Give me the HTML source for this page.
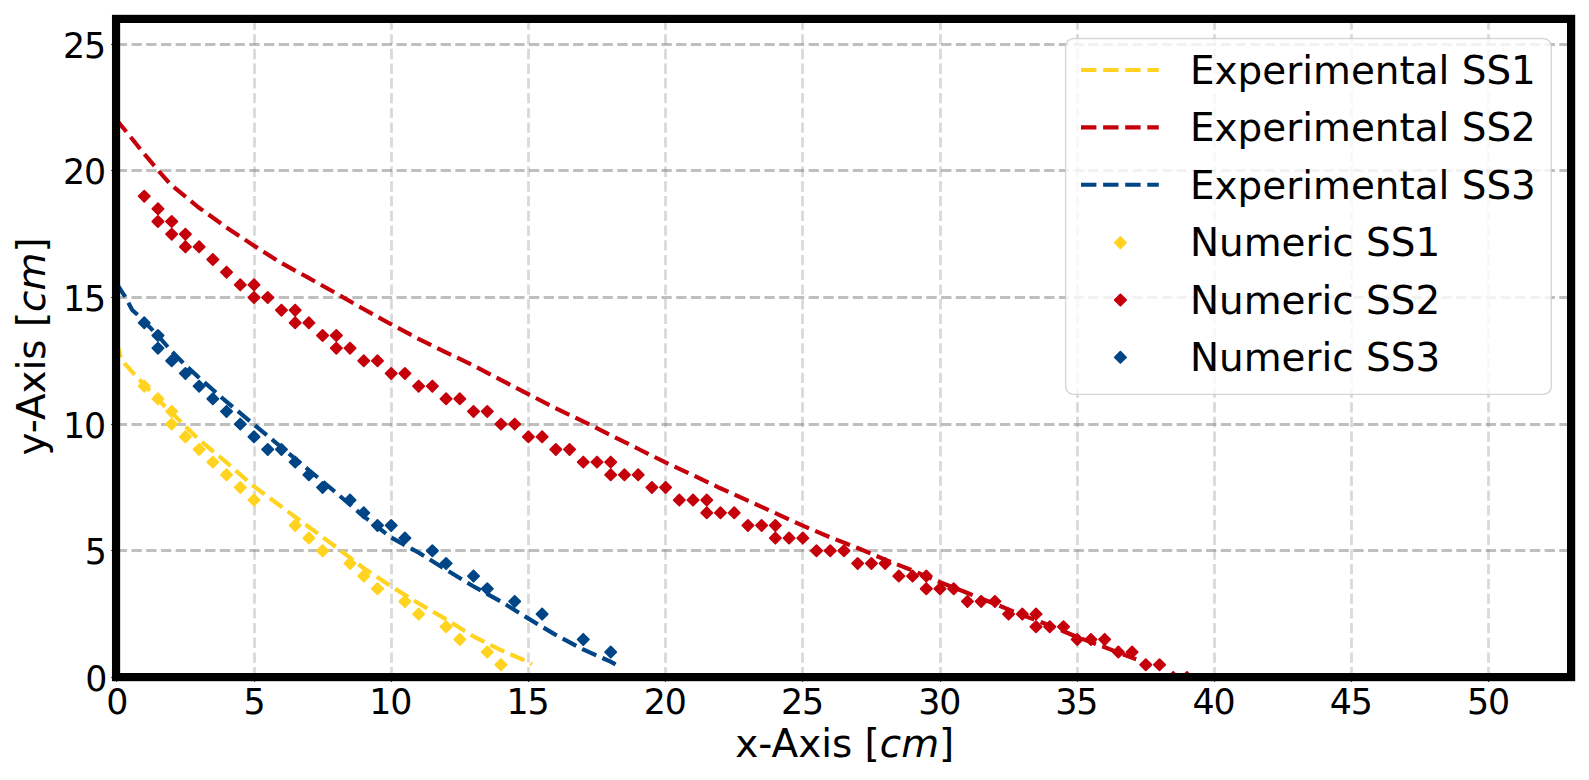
<!DOCTYPE html>
<html lang="en"><head><meta charset="utf-8"><title>Experimental vs Numeric</title>
<style>
html,body{margin:0;padding:0;background:#fff;}
svg{display:block;}
text{font-family:"DejaVu Sans","Liberation Sans",sans-serif;fill:#000;}
.tk{font-size:34.8px;}
.lg{font-size:38.9px;}
.lb{font-size:38.9px;}
.it{font-style:italic;}
</style></head><body>
<svg width="1589" height="780" viewBox="0 0 1589 780">
<rect width="1589" height="780" fill="#fff"/>
<defs><clipPath id="ax"><rect x="116.05" y="18.9" width="1455.05" height="658.2"/></clipPath></defs>
<g fill="none" stroke-width="2.8" stroke-dasharray="10.3 4.42">
<g stroke="#808080" stroke-opacity="0.3">
<path d="M116.5 677.4V18.9"/>
<path d="M254.5 677.4V18.9"/>
<path d="M391.5 677.4V18.9"/>
<path d="M528.5 677.4V18.9"/>
<path d="M665.5 677.4V18.9"/>
<path d="M802.5 677.4V18.9"/>
<path d="M940.5 677.4V18.9"/>
<path d="M1077.5 677.4V18.9"/>
<path d="M1214.5 677.4V18.9"/>
<path d="M1351.5 677.4V18.9"/>
<path d="M1488.5 677.4V18.9"/>
</g><g stroke="#808080" stroke-opacity="0.5">
<path d="M116.8 677.5H1571.1"/>
<path d="M116.8 550.5H1571.1"/>
<path d="M116.8 424.5H1571.1"/>
<path d="M116.8 297.5H1571.1"/>
<path d="M116.8 170.5H1571.1"/>
<path d="M116.8 44.5H1571.1"/>
</g></g>
<g stroke="#000" stroke-width="1.1">
<path d="M116.5 677.1v4.7"/>
<path d="M254.5 677.1v4.7"/>
<path d="M391.5 677.1v4.7"/>
<path d="M528.5 677.1v4.7"/>
<path d="M665.5 677.1v4.7"/>
<path d="M802.5 677.1v4.7"/>
<path d="M940.5 677.1v4.7"/>
<path d="M1077.5 677.1v4.7"/>
<path d="M1214.5 677.1v4.7"/>
<path d="M1351.5 677.1v4.7"/>
<path d="M1488.5 677.1v4.7"/>
<path d="M116.05 677.5h-4.7"/>
<path d="M116.05 550.5h-4.7"/>
<path d="M116.05 424.5h-4.7"/>
<path d="M116.05 297.5h-4.7"/>
<path d="M116.05 170.5h-4.7"/>
<path d="M116.05 44.5h-4.7"/>
</g>
<g clip-path="url(#ax)">
<path d="M116.79 342.69 L120.69 357.5 L124.39 363.19 L134.11 374.08 L149.51 390.28 L164.41 405.98 L170.94 412.05 L198.39 439.14 L225.83 461.92 L253.28 485.97 L280.73 506.22 L308.17 526.48 L335.62 546.73 L363.06 567.74 L390.51 585.97 L417.96 602.93 L445.4 618.88 L472.85 636.09 L500.29 649.76 L527.74 661.91 L531.86 664.44" fill="none" stroke="#FFD320" stroke-width="4.15" stroke-dasharray="15.4 6.7" stroke-dashoffset="0"/>
<path d="M116.05 119.41 L129.77 135.87 L143.5 153.08 L157.22 169.28 L170.94 184.72 L198.39 207.25 L225.83 227 L253.28 245.23 L280.73 262.69 L308.17 277.63 L335.62 293.07 L363.06 308.77 L390.51 323.96 L417.96 338.64 L445.4 352.06 L472.85 365.22 L500.29 379.65 L527.74 393.83 L555.19 408 L582.63 421.17 L610.08 434.84 L637.52 448.51 L664.97 462.18 L692.42 474.83 L719.86 488 L747.31 500.4 L774.75 512.81 L802.2 525.46 L829.65 537.11 L857.09 547.74 L884.54 559.39 L911.98 570.27 L939.43 581.92 L966.88 592.8 L994.32 603.69 L1021.77 614.83 L1049.21 625.2 L1076.66 636.85 L1104.11 646.98 L1131.55 657.61 L1136.22 659.2" fill="none" stroke="#C5000B" stroke-width="4.15" stroke-dasharray="15.4 6.7" stroke-dashoffset="-0.7"/>
<path d="M116.8 283.96 L125.33 297 L132.19 309.91 L138.28 315.48 L143.5 320.66 L157.22 334.84 L170.94 350.54 L184.67 364.46 L198.39 377.12 L225.83 401.17 L253.28 423.95 L280.73 446.73 L308.17 469.52 L335.62 492.3 L363.06 515.84 L390.51 537.11 L417.96 552.3 L445.4 569.26 L472.85 585.97 L500.29 601.15 L527.74 618.12 L555.19 634.57 L582.63 649.25 L610.08 661.4 L615.57 664.44" fill="none" stroke="#004586" stroke-width="4.15" stroke-dasharray="15.4 6.7" stroke-dashoffset="0"/>
<path fill="#FFD320" stroke="#FFD320" stroke-width="1.8" stroke-linejoin="round" d="M144.24 380.54l5.6 5.6l-5.6 5.6l-5.6 -5.6zM157.96 393.2l5.6 5.6l-5.6 5.6l-5.6 -5.6zM171.68 405.87l5.6 5.6l-5.6 5.6l-5.6 -5.6zM171.68 418.53l5.6 5.6l-5.6 5.6l-5.6 -5.6zM185.4 431.19l5.6 5.6l-5.6 5.6l-5.6 -5.6zM199.12 443.86l5.6 5.6l-5.6 5.6l-5.6 -5.6zM212.84 456.52l5.6 5.6l-5.6 5.6l-5.6 -5.6zM226.56 469.18l5.6 5.6l-5.6 5.6l-5.6 -5.6zM240.28 481.85l5.6 5.6l-5.6 5.6l-5.6 -5.6zM254 494.51l5.6 5.6l-5.6 5.6l-5.6 -5.6zM295.16 519.84l5.6 5.6l-5.6 5.6l-5.6 -5.6zM308.88 532.5l5.6 5.6l-5.6 5.6l-5.6 -5.6zM322.6 545.16l5.6 5.6l-5.6 5.6l-5.6 -5.6zM350.04 557.83l5.6 5.6l-5.6 5.6l-5.6 -5.6zM363.76 570.49l5.6 5.6l-5.6 5.6l-5.6 -5.6zM377.48 583.16l5.6 5.6l-5.6 5.6l-5.6 -5.6zM404.92 595.82l5.6 5.6l-5.6 5.6l-5.6 -5.6zM418.64 608.48l5.6 5.6l-5.6 5.6l-5.6 -5.6zM446.08 621.15l5.6 5.6l-5.6 5.6l-5.6 -5.6zM459.8 633.81l5.6 5.6l-5.6 5.6l-5.6 -5.6zM487.24 646.47l5.6 5.6l-5.6 5.6l-5.6 -5.6zM500.96 659.14l5.6 5.6l-5.6 5.6l-5.6 -5.6z"/>
<path fill="#C5000B" stroke="#C5000B" stroke-width="1.8" stroke-linejoin="round" d="M144.24 190.59l5.6 5.6l-5.6 5.6l-5.6 -5.6zM157.96 203.25l5.6 5.6l-5.6 5.6l-5.6 -5.6zM157.96 215.91l5.6 5.6l-5.6 5.6l-5.6 -5.6zM171.68 215.91l5.6 5.6l-5.6 5.6l-5.6 -5.6zM171.68 228.58l5.6 5.6l-5.6 5.6l-5.6 -5.6zM185.4 228.58l5.6 5.6l-5.6 5.6l-5.6 -5.6zM185.4 241.24l5.6 5.6l-5.6 5.6l-5.6 -5.6zM199.12 241.24l5.6 5.6l-5.6 5.6l-5.6 -5.6zM212.84 253.9l5.6 5.6l-5.6 5.6l-5.6 -5.6zM226.56 266.57l5.6 5.6l-5.6 5.6l-5.6 -5.6zM240.28 279.23l5.6 5.6l-5.6 5.6l-5.6 -5.6zM254 279.23l5.6 5.6l-5.6 5.6l-5.6 -5.6zM254 291.89l5.6 5.6l-5.6 5.6l-5.6 -5.6zM267.72 291.89l5.6 5.6l-5.6 5.6l-5.6 -5.6zM281.44 304.56l5.6 5.6l-5.6 5.6l-5.6 -5.6zM295.16 304.56l5.6 5.6l-5.6 5.6l-5.6 -5.6zM295.16 317.22l5.6 5.6l-5.6 5.6l-5.6 -5.6zM308.88 317.22l5.6 5.6l-5.6 5.6l-5.6 -5.6zM322.6 329.89l5.6 5.6l-5.6 5.6l-5.6 -5.6zM336.32 329.89l5.6 5.6l-5.6 5.6l-5.6 -5.6zM336.32 342.55l5.6 5.6l-5.6 5.6l-5.6 -5.6zM350.04 342.55l5.6 5.6l-5.6 5.6l-5.6 -5.6zM363.76 355.21l5.6 5.6l-5.6 5.6l-5.6 -5.6zM377.48 355.21l5.6 5.6l-5.6 5.6l-5.6 -5.6zM391.2 367.88l5.6 5.6l-5.6 5.6l-5.6 -5.6zM404.92 367.88l5.6 5.6l-5.6 5.6l-5.6 -5.6zM418.64 380.54l5.6 5.6l-5.6 5.6l-5.6 -5.6zM432.36 380.54l5.6 5.6l-5.6 5.6l-5.6 -5.6zM446.08 393.2l5.6 5.6l-5.6 5.6l-5.6 -5.6zM459.8 393.2l5.6 5.6l-5.6 5.6l-5.6 -5.6zM473.52 405.87l5.6 5.6l-5.6 5.6l-5.6 -5.6zM487.24 405.87l5.6 5.6l-5.6 5.6l-5.6 -5.6zM500.96 418.53l5.6 5.6l-5.6 5.6l-5.6 -5.6zM514.68 418.53l5.6 5.6l-5.6 5.6l-5.6 -5.6zM528.4 431.19l5.6 5.6l-5.6 5.6l-5.6 -5.6zM542.12 431.19l5.6 5.6l-5.6 5.6l-5.6 -5.6zM555.84 443.86l5.6 5.6l-5.6 5.6l-5.6 -5.6zM569.56 443.86l5.6 5.6l-5.6 5.6l-5.6 -5.6zM583.28 456.52l5.6 5.6l-5.6 5.6l-5.6 -5.6zM597 456.52l5.6 5.6l-5.6 5.6l-5.6 -5.6zM610.72 456.52l5.6 5.6l-5.6 5.6l-5.6 -5.6zM610.72 469.18l5.6 5.6l-5.6 5.6l-5.6 -5.6zM624.44 469.18l5.6 5.6l-5.6 5.6l-5.6 -5.6zM638.16 469.18l5.6 5.6l-5.6 5.6l-5.6 -5.6zM651.88 481.85l5.6 5.6l-5.6 5.6l-5.6 -5.6zM665.6 481.85l5.6 5.6l-5.6 5.6l-5.6 -5.6zM679.32 494.51l5.6 5.6l-5.6 5.6l-5.6 -5.6zM693.04 494.51l5.6 5.6l-5.6 5.6l-5.6 -5.6zM706.76 494.51l5.6 5.6l-5.6 5.6l-5.6 -5.6zM706.76 507.17l5.6 5.6l-5.6 5.6l-5.6 -5.6zM720.48 507.17l5.6 5.6l-5.6 5.6l-5.6 -5.6zM734.2 507.17l5.6 5.6l-5.6 5.6l-5.6 -5.6zM747.92 519.84l5.6 5.6l-5.6 5.6l-5.6 -5.6zM761.64 519.84l5.6 5.6l-5.6 5.6l-5.6 -5.6zM775.36 519.84l5.6 5.6l-5.6 5.6l-5.6 -5.6zM775.36 532.5l5.6 5.6l-5.6 5.6l-5.6 -5.6zM789.08 532.5l5.6 5.6l-5.6 5.6l-5.6 -5.6zM802.8 532.5l5.6 5.6l-5.6 5.6l-5.6 -5.6zM816.52 545.16l5.6 5.6l-5.6 5.6l-5.6 -5.6zM830.24 545.16l5.6 5.6l-5.6 5.6l-5.6 -5.6zM843.96 545.16l5.6 5.6l-5.6 5.6l-5.6 -5.6zM857.68 557.83l5.6 5.6l-5.6 5.6l-5.6 -5.6zM871.4 557.83l5.6 5.6l-5.6 5.6l-5.6 -5.6zM885.12 557.83l5.6 5.6l-5.6 5.6l-5.6 -5.6zM898.84 570.49l5.6 5.6l-5.6 5.6l-5.6 -5.6zM912.56 570.49l5.6 5.6l-5.6 5.6l-5.6 -5.6zM926.28 570.49l5.6 5.6l-5.6 5.6l-5.6 -5.6zM926.28 583.16l5.6 5.6l-5.6 5.6l-5.6 -5.6zM940 583.16l5.6 5.6l-5.6 5.6l-5.6 -5.6zM953.72 583.16l5.6 5.6l-5.6 5.6l-5.6 -5.6zM967.44 595.82l5.6 5.6l-5.6 5.6l-5.6 -5.6zM981.16 595.82l5.6 5.6l-5.6 5.6l-5.6 -5.6zM994.88 595.82l5.6 5.6l-5.6 5.6l-5.6 -5.6zM1008.6 608.48l5.6 5.6l-5.6 5.6l-5.6 -5.6zM1022.32 608.48l5.6 5.6l-5.6 5.6l-5.6 -5.6zM1036.04 608.48l5.6 5.6l-5.6 5.6l-5.6 -5.6zM1036.04 621.15l5.6 5.6l-5.6 5.6l-5.6 -5.6zM1049.76 621.15l5.6 5.6l-5.6 5.6l-5.6 -5.6zM1063.48 621.15l5.6 5.6l-5.6 5.6l-5.6 -5.6zM1077.2 633.81l5.6 5.6l-5.6 5.6l-5.6 -5.6zM1090.92 633.81l5.6 5.6l-5.6 5.6l-5.6 -5.6zM1104.64 633.81l5.6 5.6l-5.6 5.6l-5.6 -5.6zM1118.36 646.47l5.6 5.6l-5.6 5.6l-5.6 -5.6zM1132.08 646.47l5.6 5.6l-5.6 5.6l-5.6 -5.6zM1145.8 659.14l5.6 5.6l-5.6 5.6l-5.6 -5.6zM1159.52 659.14l5.6 5.6l-5.6 5.6l-5.6 -5.6zM1173.24 671.8l5.6 5.6l-5.6 5.6l-5.6 -5.6zM1186.96 671.8l5.6 5.6l-5.6 5.6l-5.6 -5.6z"/>
<path fill="#004586" stroke="#004586" stroke-width="1.8" stroke-linejoin="round" d="M144.24 317.22l5.6 5.6l-5.6 5.6l-5.6 -5.6zM157.96 329.89l5.6 5.6l-5.6 5.6l-5.6 -5.6zM157.96 342.55l5.6 5.6l-5.6 5.6l-5.6 -5.6zM171.68 355.21l5.6 5.6l-5.6 5.6l-5.6 -5.6zM185.4 367.88l5.6 5.6l-5.6 5.6l-5.6 -5.6zM199.12 380.54l5.6 5.6l-5.6 5.6l-5.6 -5.6zM212.84 393.2l5.6 5.6l-5.6 5.6l-5.6 -5.6zM226.56 405.87l5.6 5.6l-5.6 5.6l-5.6 -5.6zM240.28 418.53l5.6 5.6l-5.6 5.6l-5.6 -5.6zM254 431.19l5.6 5.6l-5.6 5.6l-5.6 -5.6zM267.72 443.86l5.6 5.6l-5.6 5.6l-5.6 -5.6zM281.44 443.86l5.6 5.6l-5.6 5.6l-5.6 -5.6zM295.16 456.52l5.6 5.6l-5.6 5.6l-5.6 -5.6zM308.88 469.18l5.6 5.6l-5.6 5.6l-5.6 -5.6zM322.6 481.85l5.6 5.6l-5.6 5.6l-5.6 -5.6zM350.04 494.51l5.6 5.6l-5.6 5.6l-5.6 -5.6zM363.76 507.17l5.6 5.6l-5.6 5.6l-5.6 -5.6zM377.48 519.84l5.6 5.6l-5.6 5.6l-5.6 -5.6zM391.2 519.84l5.6 5.6l-5.6 5.6l-5.6 -5.6zM404.92 532.5l5.6 5.6l-5.6 5.6l-5.6 -5.6zM432.36 545.16l5.6 5.6l-5.6 5.6l-5.6 -5.6zM446.08 557.83l5.6 5.6l-5.6 5.6l-5.6 -5.6zM473.52 570.49l5.6 5.6l-5.6 5.6l-5.6 -5.6zM487.24 583.16l5.6 5.6l-5.6 5.6l-5.6 -5.6zM514.68 595.82l5.6 5.6l-5.6 5.6l-5.6 -5.6zM542.12 608.48l5.6 5.6l-5.6 5.6l-5.6 -5.6zM583.28 633.81l5.6 5.6l-5.6 5.6l-5.6 -5.6zM610.72 646.47l5.6 5.6l-5.6 5.6l-5.6 -5.6z"/>
</g>
<rect x="116.05" y="18.9" width="1455.05" height="658.2" fill="none" stroke="#000" stroke-width="8.2"/>
<text class="tk" x="117.4" y="714" text-anchor="middle">0</text>
<text class="tk" x="254.6" y="714" text-anchor="middle">5</text>
<text class="tk" x="390.9" y="714" dx="0 -1.15" text-anchor="middle">10</text>
<text class="tk" x="528.1" y="714" dx="0 -1.15" text-anchor="middle">15</text>
<text class="tk" x="665.3" y="714" dx="0 -1.15" text-anchor="middle">20</text>
<text class="tk" x="802.5" y="714" dx="0 -1.15" text-anchor="middle">25</text>
<text class="tk" x="939.7" y="714" dx="0 -1.15" text-anchor="middle">30</text>
<text class="tk" x="1076.9" y="714" dx="0 -1.15" text-anchor="middle">35</text>
<text class="tk" x="1214.1" y="714" dx="0 -1.15" text-anchor="middle">40</text>
<text class="tk" x="1351.3" y="714" dx="0 -1.15" text-anchor="middle">45</text>
<text class="tk" x="1488.5" y="714" dx="0 -1.15" text-anchor="middle">50</text>
<text class="tk" x="107.3" y="691.2" text-anchor="end">0</text>
<text class="tk" x="106.9" y="564.2" text-anchor="end">5</text>
<text class="tk" x="106.15" y="438.2" dx="0 -1.15" text-anchor="end">10</text>
<text class="tk" x="106.15" y="311.2" dx="0 -1.15" text-anchor="end">15</text>
<text class="tk" x="106.15" y="184.2" dx="0 -1.15" text-anchor="end">20</text>
<text class="tk" x="106.15" y="58.2" dx="0 -1.15" text-anchor="end">25</text>
<text class="lb" x="844.8" y="756.6" text-anchor="middle">x-Axis [<tspan class="it">cm</tspan>]</text>
<text class="lb" transform="translate(45.4 346.5) rotate(-90)" text-anchor="middle">y-Axis [<tspan class="it">cm</tspan>]</text>
<rect x="1065.6" y="38.5" width="485.7" height="355.9" rx="8" ry="8" fill="#fff" fill-opacity="0.8" stroke="#ccc" stroke-opacity="0.8" stroke-width="1.4"/>
<path d="M1081 70H1158.8" fill="none" stroke="#FFD320" stroke-width="4.15" stroke-dasharray="15.4 6.7"/>
<text class="lg" x="1190" y="84.1">Experimental SS1</text>
<path d="M1081 127.35H1158.8" fill="none" stroke="#C5000B" stroke-width="4.15" stroke-dasharray="15.4 6.7"/>
<text class="lg" x="1190" y="141.45">Experimental SS2</text>
<path d="M1081 184.7H1158.8" fill="none" stroke="#004586" stroke-width="4.15" stroke-dasharray="15.4 6.7"/>
<text class="lg" x="1190" y="198.8">Experimental SS3</text>
<path fill="#FFD320" stroke="#FFD320" stroke-width="1.8" stroke-linejoin="round" d="M1120.4 237.05l5.6 5.6l-5.6 5.6l-5.6 -5.6z"/>
<text class="lg" x="1190" y="256.15">Numeric SS1</text>
<path fill="#C5000B" stroke="#C5000B" stroke-width="1.8" stroke-linejoin="round" d="M1120.4 294.4l5.6 5.6l-5.6 5.6l-5.6 -5.6z"/>
<text class="lg" x="1190" y="313.5">Numeric SS2</text>
<path fill="#004586" stroke="#004586" stroke-width="1.8" stroke-linejoin="round" d="M1120.4 351.75l5.6 5.6l-5.6 5.6l-5.6 -5.6z"/>
<text class="lg" x="1190" y="370.85">Numeric SS3</text>
</svg></body></html>
